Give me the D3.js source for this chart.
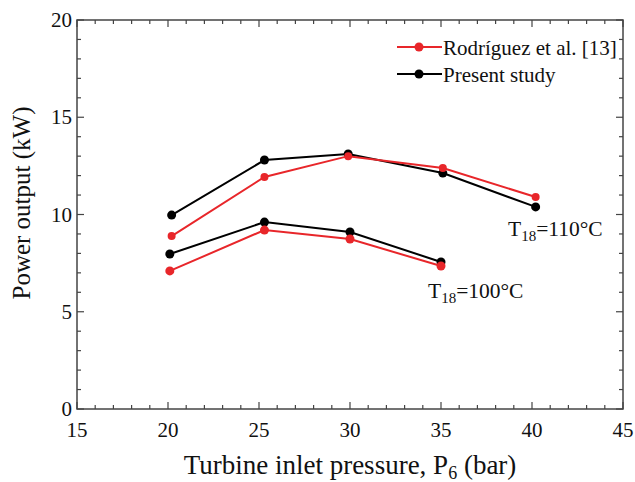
<!DOCTYPE html>
<html>
<head>
<meta charset="utf-8">
<script src="https://cdn.jsdelivr.net/npm/d3@7"></script>
<style>
  body { margin: 0; background: #fff; }
  text { font-family: "Liberation Serif", "Times New Roman", serif; }
</style>
</head>
<body>
<div id="chart"></div>
<script>
// Data
const pressureHigh = [20.2, 25.3, 29.9, 35.1, 40.2];
const pressureLow = [20.1, 25.3, 30.0, 35.0];
const rodriguez110 = [8.89, 11.93, 13.0, 12.39, 10.9];
const present110 = [9.97, 12.8, 13.11, 12.13, 10.39];
const rodriguez100 = [7.1, 9.2, 8.74, 7.35];
const present100 = [7.97, 9.61, 9.1, 7.56];
const xTicks = [15, 20, 25, 30, 35, 40, 45];
const yTicks = [0, 5, 10, 15, 20];

const width = 635, height = 482;
const margin = { top: 20, right: 12, bottom: 73, left: 77 };
const innerW = width - margin.left - margin.right;
const innerH = height - margin.top - margin.bottom;

const svg = d3.select("#chart").append("svg")
  .attr("width", width)
  .attr("height", height);

const g = svg.append("g").attr("transform", `translate(${margin.left},${margin.top})`);

const x = d3.scaleLinear().domain([15, 45]).range([0, innerW]);
const y = d3.scaleLinear().domain([0, 20]).range([innerH, 0]);

const axisColor = "#444";

// frame
g.append("rect")
  .attr("width", innerW).attr("height", innerH)
  .attr("fill", "none").attr("stroke", axisColor).attr("stroke-width", 1.5);

// minor + major ticks (inward) on all four sides
const xMinor = d3.range(16, 45, 1).filter(v => v % 5 !== 0);
const yMinor = d3.range(1, 20, 1).filter(v => v % 5 !== 0);
const tickG = g.append("g").attr("stroke", axisColor).attr("stroke-width", 1.2);

xTicks.concat(xMinor).forEach(v => {
  const len = v % 5 === 0 ? 7 : 4;
  tickG.append("line").attr("x1", x(v)).attr("x2", x(v)).attr("y1", innerH).attr("y2", innerH - len);
  tickG.append("line").attr("x1", x(v)).attr("x2", x(v)).attr("y1", 0).attr("y2", len);
});
yTicks.concat(yMinor).forEach(v => {
  const len = v % 5 === 0 ? 7 : 4;
  tickG.append("line").attr("x1", 0).attr("x2", len).attr("y1", y(v)).attr("y2", y(v));
  tickG.append("line").attr("x1", innerW).attr("x2", innerW - len).attr("y1", y(v)).attr("y2", y(v));
});

// tick labels
g.selectAll(".xlab").data(xTicks).enter().append("text")
  .attr("x", d => x(d)).attr("y", innerH + 28)
  .attr("text-anchor", "middle").attr("font-size", 21).attr("fill", "#111")
  .text(d => d);
g.selectAll(".ylab").data(yTicks).enter().append("text")
  .attr("x", -5).attr("y", d => y(d) + 7)
  .attr("text-anchor", "end").attr("font-size", 21).attr("fill", "#111")
  .text(d => d);

// axis titles
const xTitle = svg.append("text")
  .attr("x", margin.left + innerW / 2).attr("y", 474)
  .attr("text-anchor", "middle").attr("font-size", 27).attr("fill", "#111");
xTitle.append("tspan").text("Turbine inlet pressure, P");
xTitle.append("tspan").attr("font-size", 18).attr("dy", 5).text("6");
xTitle.append("tspan").attr("dy", -5).text(" (bar)");

svg.append("text")
  .attr("transform", `translate(30,203) rotate(-90)`)
  .attr("text-anchor", "middle").attr("font-size", 25).attr("fill", "#111")
  .text("Power output (kW)");

// series
const line = d3.line().x(d => x(d[0])).y(d => y(d[1]));
const series = [
  { xs: pressureHigh, ys: present110, color: "#000", r: 4.5 },
  { xs: pressureHigh, ys: rodriguez110, color: "#e8262a", r: 4 },
  { xs: pressureLow, ys: present100, color: "#000", r: 4.5 },
  { xs: pressureLow, ys: rodriguez100, color: "#e8262a", r: 4.5 }
];
series.forEach(s => {
  const pts = s.xs.map((v, i) => [v, s.ys[i]]);
  g.append("path").datum(pts)
    .attr("d", line).attr("fill", "none")
    .attr("stroke", s.color).attr("stroke-width", 2);
  g.selectAll(null).data(pts).enter().append("circle")
    .attr("cx", d => x(d[0])).attr("cy", d => y(d[1]))
    .attr("r", s.r).attr("fill", s.color);
});

// annotations
function tempLabel(px, py, label) {
  const t = svg.append("text").attr("x", px).attr("y", py)
    .attr("font-size", 21.5).attr("fill", "#111");
  t.append("tspan").text("T");
  t.append("tspan").attr("font-size", 15).attr("dy", 5).text("18");
  t.append("tspan").attr("dy", -5).text(label);
}
tempLabel(508, 236, "=110°C");
tempLabel(428, 298, "=100°C");

// legend
const legend = [
  { label: "Rodríguez et al. [13]", color: "#e8262a", yy: 47 },
  { label: "Present study", color: "#000", yy: 74 }
];
legend.forEach(l => {
  svg.append("line").attr("x1", 397).attr("x2", 442).attr("y1", l.yy).attr("y2", l.yy)
    .attr("stroke", l.color).attr("stroke-width", 2);
  svg.append("circle").attr("cx", 419).attr("cy", l.yy).attr("r", 4.5).attr("fill", l.color);
  svg.append("text").attr("x", 443).attr("y", l.yy + 8)
    .attr("font-size", 21).attr("fill", "#111").text(l.label);
});
</script>
</body>
</html>
